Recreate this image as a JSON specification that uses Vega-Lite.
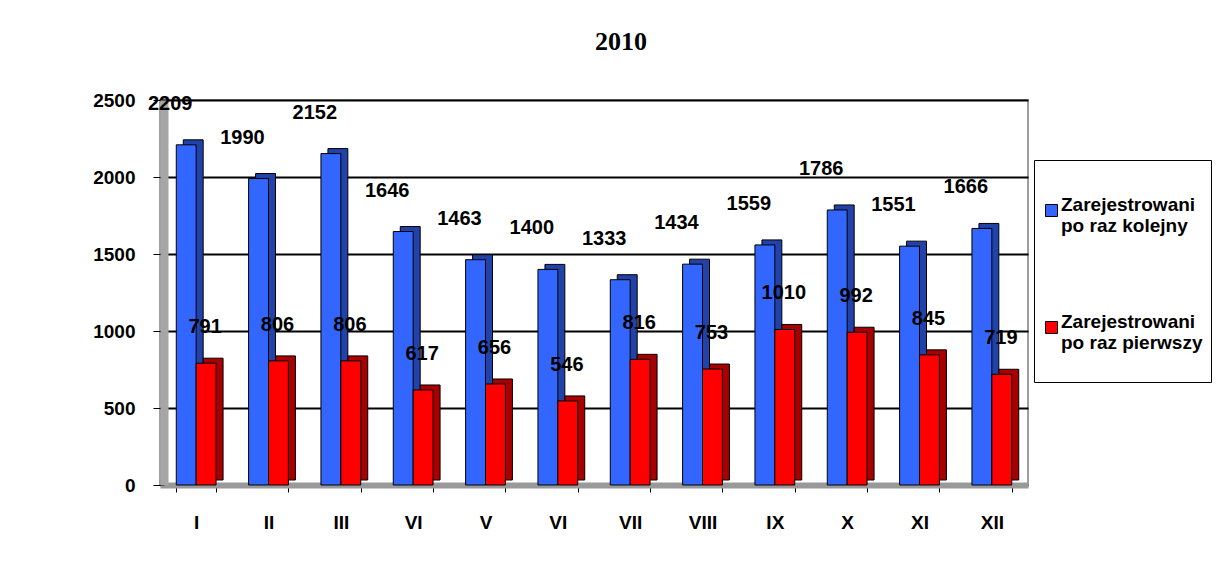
{
  "$schema": "https://vega.github.io/schema/vega-lite/v6.json",
  "autosize": "none",
  "width": 868,
  "height": 385,
  "padding": {"left": 160, "top": 100, "right": 194, "bottom": 96},
  "background": "white",
  "title": {
    "text": "2010",
    "font": "Liberation Serif",
    "fontSize": 26,
    "fontWeight": "bold",
    "color": "black",
    "anchor": "middle",
    "frame": "group",
    "baseline": "alphabetic",
    "dx": 27,
    "offset": 15
  },
  "config": {
    "view": {"stroke": "#808080", "strokeWidth": 1.5},
    "font": "Liberation Sans"
  },
  "resolve": {"scale": {"color": "independent", "xOffset": "independent"}, "legend": {"color": "independent"}},
  "data": {
    "values": [
      {"m": "I", "series": "Zarejestrowani po raz kolejny", "value": 2209},
      {"m": "II", "series": "Zarejestrowani po raz kolejny", "value": 1990},
      {"m": "III", "series": "Zarejestrowani po raz kolejny", "value": 2152},
      {"m": "VI ", "series": "Zarejestrowani po raz kolejny", "value": 1646},
      {"m": "V", "series": "Zarejestrowani po raz kolejny", "value": 1463},
      {"m": "VI", "series": "Zarejestrowani po raz kolejny", "value": 1400},
      {"m": "VII", "series": "Zarejestrowani po raz kolejny", "value": 1333},
      {"m": "VIII", "series": "Zarejestrowani po raz kolejny", "value": 1434},
      {"m": "IX", "series": "Zarejestrowani po raz kolejny", "value": 1559},
      {"m": "X", "series": "Zarejestrowani po raz kolejny", "value": 1786},
      {"m": "XI", "series": "Zarejestrowani po raz kolejny", "value": 1551},
      {"m": "XII", "series": "Zarejestrowani po raz kolejny", "value": 1666},
      {"m": "I", "series": "Zarejestrowani po raz pierwszy", "value": 791},
      {"m": "II", "series": "Zarejestrowani po raz pierwszy", "value": 806},
      {"m": "III", "series": "Zarejestrowani po raz pierwszy", "value": 806},
      {"m": "VI ", "series": "Zarejestrowani po raz pierwszy", "value": 617},
      {"m": "V", "series": "Zarejestrowani po raz pierwszy", "value": 656},
      {"m": "VI", "series": "Zarejestrowani po raz pierwszy", "value": 546},
      {"m": "VII", "series": "Zarejestrowani po raz pierwszy", "value": 816},
      {"m": "VIII", "series": "Zarejestrowani po raz pierwszy", "value": 753},
      {"m": "IX", "series": "Zarejestrowani po raz pierwszy", "value": 1010},
      {"m": "X", "series": "Zarejestrowani po raz pierwszy", "value": 992},
      {"m": "XI", "series": "Zarejestrowani po raz pierwszy", "value": 845},
      {"m": "XII", "series": "Zarejestrowani po raz pierwszy", "value": 719}
    ]
  },
  "encoding": {
    "x": {
      "field": "m",
      "type": "nominal",
      "sort": null,
      "scale": {"paddingInner": 0.45, "paddingOuter": 0.225},
      "axis": {
        "title": null,
        "labelAngle": 0,
        "labelExpr": "trim(datum.label)",
        "labelFont": "Liberation Sans",
        "labelFontSize": 19,
        "labelFontWeight": "bold",
        "labelColor": "black",
        "labelPadding": 21,
        "tickBand": "extent",
        "tickColor": "black",
        "tickSize": 7,
        "tickWidth": 1,
        "domainColor": "#999999",
        "domainWidth": 6,
        "grid": false
      }
    },
    "y": {
      "field": "value",
      "type": "quantitative",
      "scale": {"domain": [0, 2500], "nice": false},
      "axis": {
        "title": null,
        "values": [0, 500, 1000, 1500, 2000, 2500],
        "format": "d",
        "labelFont": "Liberation Sans",
        "labelFontSize": 19,
        "labelFontWeight": "bold",
        "labelColor": "black",
        "labelPadding": 18,
        "offset": -4,
        "tickSize": 11,
        "tickColor": "black",
        "tickWidth": 1,
        "domainColor": "#a6a6a6",
        "domainWidth": 8,
        "grid": true,
        "gridColor": "black",
        "gridWidth": 2
      }
    }
  },
  "layer": [
    {
      "mark": {"type": "bar", "yOffset": -5, "y2Offset": -5, "stroke": "black", "strokeWidth": 1},
      "encoding": {
        "xOffset": {
          "field": "series",
          "type": "nominal",
          "scale": {"domain": ["Zarejestrowani po raz kolejny", "Zarejestrowani po raz pierwszy"], "range": [7, 46.8], "paddingInner": 0, "paddingOuter": 0}
        },
        "color": {
          "field": "series",
          "type": "nominal",
          "scale": {"domain": ["Zarejestrowani po raz kolejny", "Zarejestrowani po raz pierwszy"], "range": ["#2142A8", "#A80000"]},
          "legend": null
        }
      }
    },
    {
      "mark": {"type": "bar", "stroke": "black", "strokeWidth": 1},
      "encoding": {
        "xOffset": {
          "field": "series",
          "type": "nominal",
          "scale": {"domain": ["Zarejestrowani po raz kolejny", "Zarejestrowani po raz pierwszy"], "paddingInner": 0, "paddingOuter": 0}
        },
        "color": {
          "field": "series",
          "type": "nominal",
          "scale": {"domain": ["Zarejestrowani po raz kolejny", "Zarejestrowani po raz pierwszy"], "range": ["#3366FF", "#FF0000"]},
          "legend": {
            "orient": "none",
            "legendX": 874,
            "legendY": 60,
            "title": " ",
            "titleFontSize": 19,
            "titlePadding": 14,
            "padding": 8,
            "strokeColor": "black",
            "fillColor": "white",
            "rowPadding": 76,
            "symbolType": "square",
            "symbolSize": 144,
            "symbolStrokeColor": "black",
            "symbolStrokeWidth": 1,
            "labelFont": "Liberation Sans",
            "labelFontSize": 19,
            "labelFontWeight": "bold",
            "labelColor": "black",
            "labelOffset": 0,
            "labelLimit": 300,
            "labelBaseline": "alphabetic",
            "labelExpr": "indexof(datum.label, 'pierwszy') > 0 ? [slice(datum.label, 0, 14), slice(datum.label, 15), ''] : [slice(datum.label, 0, 14), slice(datum.label, 15)]"
          }
        }
      }
    },
    {
      "transform": [{"filter": "datum.series == 'Zarejestrowani po raz kolejny'"}],
      "mark": {"type": "text", "font": "Liberation Sans", "fontSize": 20, "fontWeight": "bold", "color": "black", "baseline": "middle", "dx": -26, "dy": -41},
      "encoding": {
        "text": {"field": "value", "type": "quantitative"}
      }
    },
    {
      "transform": [{"filter": "datum.series == 'Zarejestrowani po raz pierwszy'"}],
      "mark": {"type": "text", "font": "Liberation Sans", "fontSize": 20, "fontWeight": "bold", "color": "black", "baseline": "middle", "dx": 9, "dy": -36},
      "encoding": {
        "text": {"field": "value", "type": "quantitative"}
      }
    }
  ]
}
